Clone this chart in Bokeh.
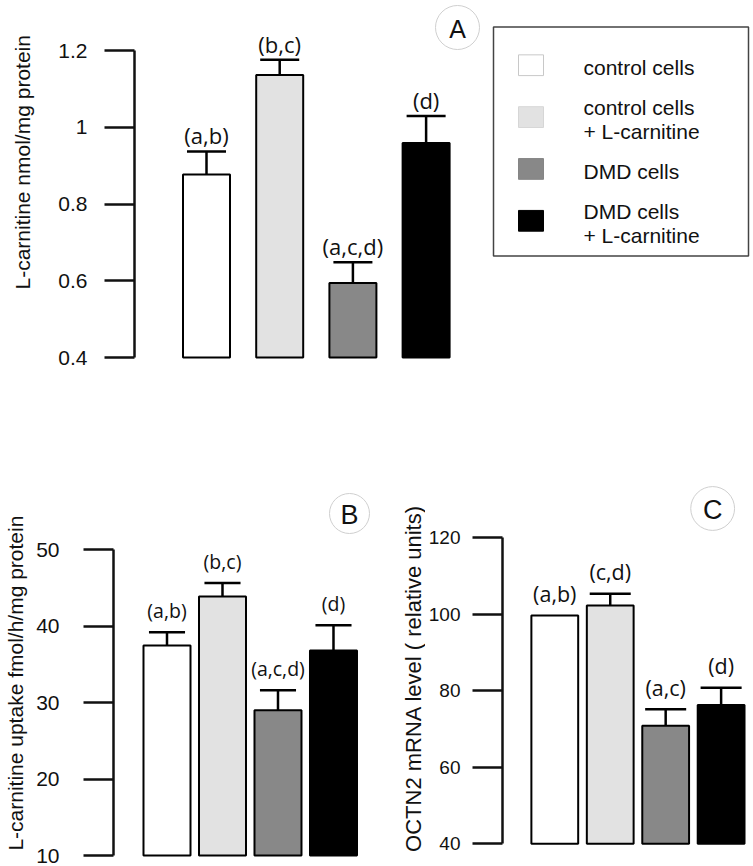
import math
from bokeh.plotting import figure
from bokeh.models import Range1d, FixedTicker
from bokeh.layouts import row, column
from bokeh.embed import file_html
from bokeh.resources import INLINE
from bokeh.core.properties import value

# ---------------- data ----------------
categories = ["control cells", "control cells\n+ L-carnitine", "DMD cells", "DMD cells\n+ L-carnitine"]
bar_colors = ["#ffffff", "#e2e2e2", "#888888", "#000000"]
swatch_lines = ["#c8c8c8", "#d6d6d6", "#858585", "#000000"]

a_values = [0.877, 1.136, 0.594, 0.959]
a_errors = [0.060, 0.040, 0.054, 0.070]
a_letters = ["(a,b)", "(b,c)", "(a,c,d)", "(d)"]
a_ticks = [0.4, 0.6, 0.8, 1.0, 1.2]
a_ylabel = "L-carnitine nmol/mg protein"

b_values = [37.45, 43.86, 29.0, 36.8]
b_errors = [1.75, 1.75, 2.6, 3.3]
b_letters = ["(a,b)", "(b,c)", "(a,c,d)", "(d)"]
b_ticks = [10, 20, 30, 40, 50]
b_ylabel = "L-carnitine uptake fmol/h/mg protein"

c_values = [99.7, 102.3, 70.85, 76.3]
c_errors = [0.0, 3.1, 4.35, 4.5]
c_letters = ["(a,b)", "(c,d)", "(a,c)", "(d)"]
c_ticks = [40, 60, 80, 100, 120]
c_ylabel = "OCTN2 mRNA level  ( relative units)"

SANS = "Liberation Sans"


def blank(width, height):
    p = figure(width=width, height=height, x_range=Range1d(0, width), y_range=Range1d(height, 0),
               x_axis_location=None, y_axis_location=None, toolbar_location=None,
               output_backend="svg", min_border=0)
    p.outline_line_color = None
    p.grid.visible = False
    return p


def title_fig(text, width, height, cx, cy, size):
    p = blank(width, height)
    p.text(x=[cx], y=[cy], text=[text], angle=math.pi / 2, text_align="center",
           text_baseline="middle", text_font=value(SANS), text_font_size=f"{size}px",
           text_color="#111111")
    return p


def make_panel(values, errors, letters, ticks, badge,
               width, height, bl, bb, xr, yr, bar_w, cap_w, lab_off, lab_size,
               tick_size, tick_standoff, badge_xy, badge_r, badge_size, tick_fmt=None):
    p = figure(width=width, height=height, x_range=Range1d(*xr), y_range=Range1d(*yr),
               x_axis_location=None, toolbar_location=None, output_backend="svg",
               min_border_left=bl, min_border_right=0, min_border_top=0, min_border_bottom=bb)
    p.outline_line_color = None
    p.grid.visible = False
    p.background_fill_color = "white"
    fw, fh = width - bl, height - bb
    p.extra_x_ranges = {"px": Range1d(0, fw)}
    p.extra_y_ranges = {"py": Range1d(fh, 0)}

    xs = list(range(1, len(values) + 1))
    base = ticks[0]
    p.vbar(x=xs, top=values, bottom=base, width=bar_w, fill_color=bar_colors,
           line_color="black", line_width=2)

    idx = [i for i, e in enumerate(errors) if e > 0]
    ex = [xs[i] for i in idx]
    ev = [values[i] for i in idx]
    et = [values[i] + errors[i] for i in idx]
    p.segment(x0=ex, y0=ev, x1=ex, y1=et, line_color="black", line_width=2.5)
    p.segment(x0=[x - cap_w / 2 for x in ex], y0=et, x1=[x + cap_w / 2 for x in ex], y1=et,
              line_color="black", line_width=2.5)

    tops = [v + e for v, e in zip(values, errors)]
    p.text(x=xs, y=tops, text=letters, y_offset=-lab_off, text_align="center",
           text_baseline="middle", text_font=value("Open Sans"),
           text_font_size=f"{lab_size}px", text_color="#111111")

    p.circle(x=[badge_xy[0]], y=[badge_xy[1]], radius=badge_r, x_range_name="px", y_range_name="py",
             fill_color="white", line_color="#cfcfcf", line_width=1)
    p.text(x=[badge_xy[0]], y=[badge_xy[1] + 1], text=[badge], x_range_name="px", y_range_name="py",
           text_align="center", text_baseline="middle", text_font=value(SANS),
           text_font_size=f"{badge_size}px", text_color="#111111")

    ax = p.yaxis[0]
    ax.ticker = FixedTicker(ticks=ticks)
    ax.bounds = (ticks[0], ticks[-1])
    ax.major_tick_out = 30
    ax.major_tick_in = 0
    ax.minor_tick_out = 0
    ax.minor_tick_in = 0
    ax.axis_line_width = 2.5
    ax.axis_line_color = "#111111"
    ax.major_tick_line_width = 2.5
    ax.major_tick_line_color = "#111111"
    ax.major_label_text_font = SANS
    ax.major_label_text_font_size = f"{tick_size}px"
    ax.major_label_text_color = "#111111"
    ax.major_label_standoff = tick_standoff
    if tick_fmt:
        ax.major_label_overrides = tick_fmt
    return p


# ---- top row: title A (page x 0..40), panel A (40..480, frame from 134), legend (480..750)
ta = title_fig(a_ylabel, 40, 470, 22, 195, 21)
pa = make_panel(a_values, a_errors, a_letters, a_ticks, "A",
                width=440, height=470, bl=94, bb=80,
                xr=(0.0164, 4.743), yr=(0.31401, 1.3303),
                bar_w=0.642, cap_w=0.533, lab_off=16, lab_size=22,
                tick_size=21, tick_standoff=17,
                badge_xy=(323, 27), badge_r=22, badge_size=25,
                tick_fmt={0.4: "0.4", 0.6: "0.6", 0.8: "0.8", 1.0: "1", 1.2: "1.2"})

pl = blank(270, 470)
pl.quad(left=[13], right=[268], top=[32], bottom=[308], fill_color=None,
        line_color="#444444", line_width=1.5)
step = 62.5
sw_y = [78 + i * step for i in range(len(categories))]
pl.rect(x=[50.5] * len(categories), y=sw_y, width=25, height=25,
        fill_color=bar_colors, line_color=swatch_lines, line_width=1)
tx, ty, tt = [], [], []
for i, cat in enumerate(categories):
    lines = cat.split("\n")
    n = len(lines)
    for j, ln in enumerate(lines):
        tx.append(103)
        ty.append(sw_y[i] + 3 + (j - (n - 1) / 2) * 28.5)
        tt.append(ln)
pl.text(x=tx, y=ty, text=tt, text_align="left", text_baseline="middle",
        text_font=value(SANS), text_font_size="21px", text_color="#111111")

# ---- bottom row: title B (0..30), panel B (30..375, frame from 113),
#                  title C (375..425), panel C (425..750, frame from 501)
tb = title_fig(b_ylabel, 30, 396, 15, 217, 21)
pb = make_panel(b_values, b_errors, b_letters, b_ticks, "B",
                width=345, height=396, bl=83, bb=8,
                xr=(0.036, 4.757), yr=(9.608, 60.33),
                bar_w=0.847, cap_w=0.65, lab_off=22, lab_size=19.5,
                tick_size=21, tick_standoff=24,
                badge_xy=(236, 43), badge_r=20, badge_size=27)

tc = title_fig(c_ylabel, 50, 396, 38, 209, 22)
pc = make_panel(c_values, c_errors, c_letters, c_ticks, "C",
                width=325, height=396, bl=76, bb=8,
                xr=(0.057, 4.53), yr=(36.16, 137.6),
                bar_w=0.844, cap_w=0.74, lab_off=22, lab_size=21.5,
                tick_size=19, tick_standoff=12,
                badge_xy=(211, 38), badge_r=22, badge_size=27)

layout = column(row(ta, pa, pl), row(tb, pb, tc, pc))
open("out.html", "w").write(file_html(layout, INLINE))
